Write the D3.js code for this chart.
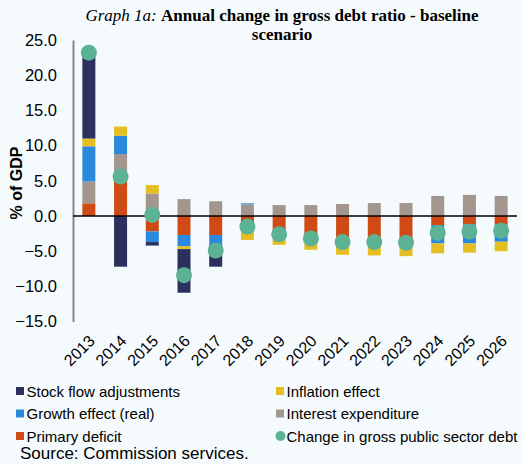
<!DOCTYPE html>
<html>
<head>
<meta charset="utf-8">
<script src="https://cdn.jsdelivr.net/npm/d3@7"></script>
<style>
    body { margin: 0; background: #f5fafd; }
    svg { display: block; font-family: "Liberation Sans", Arial, sans-serif; }
</style>
</head>
<body>
<div id="chart"></div>
<script>
// chart values (% of GDP)
var years = ["2013", "2014", "2015", "2016", "2017", "2018", "2019", "2020",
    "2021", "2022", "2023", "2024", "2025", "2026"];
var primaryDeficit = [1.8, 5.0, -2.2, -2.7, -2.7, -1.3, -2.9, -3.4, -3.6, -3.7, -3.8, -1.3, -1.2, -1.2];
var interestExpenditure = [3.1, 3.8, 3.2, 2.4, 2.1, 1.65, 1.55, 1.55, 1.7, 1.85, 1.85, 2.85, 3.0, 2.85];
var growthEffect = [5.0, 2.6, -1.5, -1.6, -1.4, 0.15, 0, 0, -0.4, -0.3, -0.3, -2.6, -2.7, -2.45];
var inflationEffect = [1.1, 1.3, 1.2, -0.4, 0, -2.1, -1.2, -1.4, -1.5, -1.6, -1.6, -1.4, -1.3, -1.35];
var stockFlow = [12.2, -7.2, -0.5, -6.2, -3.1, 0, 0, 0, 0, 0, 0, 0, 0, 0];
var debtChange = [23.2, 5.6, 0.15, -8.4, -4.9, -1.5, -2.6, -3.2, -3.7, -3.7, -3.8, -2.4, -2.2, -2.1];
var yTicks = [-15, -10, -5, 0, 5, 10, 15, 20, 25];

var width = 521, height = 464;

// stacking order as in the original (bottom first)
var series = [
    {key: "pd", name: "Primary deficit", values: primaryDeficit, color: "#cf4a15"},
    {key: "ie", name: "Interest expenditure", values: interestExpenditure, color: "#a3968f"},
    {key: "ge", name: "Growth effect (real)", values: growthEffect, color: "#2a89dc"},
    {key: "inf", name: "Inflation effect", values: inflationEffect, color: "#e5bf22"},
    {key: "sfa", name: "Stock flow adjustments", values: stockFlow, color: "#2b305f"}
];

var rows = years.map(function (y, i) {
    var r = {year: y};
    series.forEach(function (s) { r[s.key] = s.values[i]; });
    return r;
});

var stacked = d3.stack()
    .keys(series.map(function (s) { return s.key; }))
    .offset(d3.stackOffsetDiverging)(rows);

var svg = d3.select("#chart").append("svg")
    .attr("width", width)
    .attr("height", height);

var xScale = d3.scaleBand()
    .domain(years)
    .range([73, 517])
    .paddingInner(0.59)
    .paddingOuter(0.295);

var yScale = d3.scaleLinear()
    .domain([-15, 25])
    .range([321.6, 40]);

// title
var title = svg.append("text")
    .attr("x", 282)
    .attr("y", 21)
    .attr("text-anchor", "middle")
    .attr("font-family", "'Liberation Serif', 'Times New Roman', serif")
    .attr("font-size", "17px");
title.append("tspan").attr("font-style", "italic").text("Graph 1a: ");
title.append("tspan").attr("font-weight", "bold").text("Annual change in gross debt ratio - baseline");
svg.append("text")
    .attr("x", 282)
    .attr("y", 40)
    .attr("text-anchor", "middle")
    .attr("font-family", "'Liberation Serif', 'Times New Roman', serif")
    .attr("font-size", "17px")
    .attr("font-weight", "bold")
    .text("scenario");

// y axis
var yAxis = d3.axisLeft(yScale)
    .tickValues(yTicks)
    .tickSize(0)
    .tickPadding(16)
    .tickFormat(d3.format(".1f"));

var yg = svg.append("g")
    .attr("transform", "translate(73,0)")
    .call(yAxis);
yg.select(".domain").attr("stroke", "#868686").attr("stroke-width", 2);
yg.selectAll("text")
    .attr("font-size", "16.5px")
    .attr("font-family", "'Liberation Sans', Arial, sans-serif")
    .attr("fill", "#000");

svg.append("text")
    .attr("transform", "translate(22,183) rotate(-90)")
    .attr("text-anchor", "middle")
    .attr("font-size", "16px")
    .attr("font-weight", "bold")
    .text("% of GDP");

// bars
svg.append("g")
    .selectAll("g")
    .data(stacked)
    .join("g")
    .attr("fill", function (d, i) { return series[i].color; })
    .selectAll("rect")
    .data(function (d) { return d; })
    .join("rect")
    .attr("x", function (d) { return xScale(d.data.year); })
    .attr("width", xScale.bandwidth())
    .attr("y", function (d) { return yScale(Math.max(d[0], d[1])); })
    .attr("height", function (d) { return Math.abs(yScale(d[0]) - yScale(d[1])); });

// zero line
svg.append("line")
    .attr("x1", 73)
    .attr("x2", 517)
    .attr("y1", yScale(0))
    .attr("y2", yScale(0))
    .attr("stroke", "#000")
    .attr("stroke-width", 1.5);

// change in gross debt markers
svg.append("g")
    .selectAll("circle")
    .data(debtChange)
    .join("circle")
    .attr("cx", function (d, i) { return xScale(years[i]) + xScale.bandwidth() / 2; })
    .attr("cy", function (d) { return yScale(d); })
    .attr("r", 8)
    .attr("fill", "#5cb294");

// x labels, rotated
var xAxis = d3.axisBottom(xScale).tickSize(0).tickPadding(0);
var xg = svg.append("g")
    .attr("transform", "translate(0,334)")
    .call(xAxis);
xg.select(".domain").remove();
xg.selectAll("text")
    .attr("font-size", "16px")
    .attr("font-family", "'Liberation Sans', Arial, sans-serif")
    .attr("fill", "#000")
    .attr("text-anchor", "end")
    .attr("dy", "0.7em")
    .attr("transform", "translate(-1,0) rotate(-45)");

// legend
var legendItems = [
    {name: "Stock flow adjustments", color: "#2b305f", type: "rect", col: 0, row: 0},
    {name: "Growth effect (real)", color: "#2a89dc", type: "rect", col: 0, row: 1},
    {name: "Primary deficit", color: "#cf4a15", type: "rect", col: 0, row: 2},
    {name: "Inflation effect", color: "#e5bf22", type: "rect", col: 1, row: 0},
    {name: "Interest expenditure", color: "#a3968f", type: "rect", col: 1, row: 1},
    {name: "Change in gross public sector debt", color: "#5cb294", type: "circle", col: 1, row: 2}
];

var legend = svg.append("g");
legendItems.forEach(function (it) {
    var lx = it.col === 0 ? 16 : 276;
    var ly = 391 + it.row * 22.5;
    if (it.type === "rect") {
        legend.append("rect")
            .attr("x", lx)
            .attr("y", ly - 4)
            .attr("width", 8)
            .attr("height", 8)
            .attr("fill", it.color);
    } else {
        legend.append("circle")
            .attr("cx", lx + 4.5)
            .attr("cy", ly)
            .attr("r", 5)
            .attr("fill", it.color);
    }
    legend.append("text")
        .attr("x", lx + 10.5)
        .attr("y", ly + 5.5)
        .attr("font-size", "15px")
        .text(it.name);
});

svg.append("text")
    .attr("x", 20)
    .attr("y", 459)
    .attr("font-size", "17px")
    .text("Source: Commission services.");
</script>
</body>
</html>
